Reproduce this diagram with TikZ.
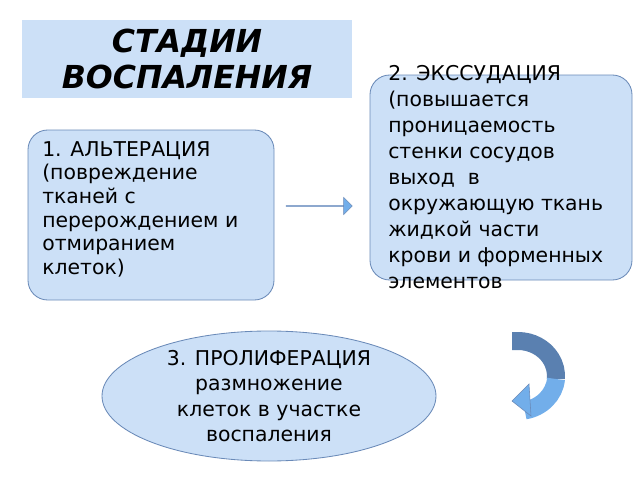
\documentclass[tikz,border=0pt]{standalone}
\usepackage{fontspec}
\setmainfont{DejaVu Sans}
\usetikzlibrary{shapes.geometric,shapes.arrows}
\definecolor{boxfill}{HTML}{CCE0F7}
\definecolor{boxline}{HTML}{6A8AB8}
\definecolor{arrdark}{HTML}{5A80B0}
\definecolor{arrlight}{HTML}{72AEEA}
\tikzset{
  stage/.style={draw=boxline, fill=boxfill, rounded corners=14pt, line width=0.6pt},
  txt/.style={font=\fontsize{14.5}{16.8}\selectfont, align=left, inner sep=0pt}
}
\begin{document}
\begin{tikzpicture}[x=0.025cm,y=-0.025cm]
  \useasboundingbox (0,0) rectangle (640,480);
  % title
  \node[fill=boxfill, minimum width=330*0.025cm, minimum height=78*0.025cm,
        font=\fontsize{22.5}{25.5}\selectfont\bfseries\itshape, align=center] (title) at (187,59) {СТАДИИ\\ВОСПАЛЕНИЯ};
  % stage boxes
  \draw[stage] (28,130) rectangle (274,300);
  \node[txt, anchor=north west] (alt) at (42,141)
    {1. АЛЬТЕРАЦИЯ\\(повреждение\\тканей с\\перерождением и\\отмиранием\\клеток)};
  \draw[stage] (370,75) rectangle (632,280);
  \node[txt, anchor=north west, font=\fontsize{14.5}{18.5}\selectfont] (exs) at (388,65)
    {2. ЭКССУДАЦИЯ\\(повышается\\проницаемость\\стенки сосудов\\выход\ \ в\\окружающую ткань\\жидкой части\\крови и форменных\\элементов};
  \node[ellipse, draw=boxline, fill=boxfill, line width=0.6pt,
        minimum width=334*0.025cm, minimum height=130*0.025cm] (pro) at (269,396) {};
  \node[txt, align=center, font=\fontsize{14.5}{18}\selectfont] at (pro) {3. ПРОЛИФЕРАЦИЯ\\размножение\\клеток в участке\\воспаления};
  % arrows
  \node[single arrow, draw=boxline, fill=arrlight, minimum height=66*0.025cm,
        minimum width=17*0.025cm, single arrow head extend=7.5*0.025cm, inner sep=0pt,
        single arrow tip angle=90] (a1) at (319,206) {};
  \draw[arrdark, line width=18*0.025cm] (512,341) -- (518,341) arc[start angle=-90, end angle=5, x radius=38, y radius=35];
  \draw[arrlight, line width=18*0.025cm] (556,379) arc[start angle=5, end angle=80, x radius=38, y radius=35];
  \fill[arrlight, draw=boxline, line width=0.4pt] (512,401) -- (529,384) -- (531,416) -- cycle;
\end{tikzpicture}
\end{document}
